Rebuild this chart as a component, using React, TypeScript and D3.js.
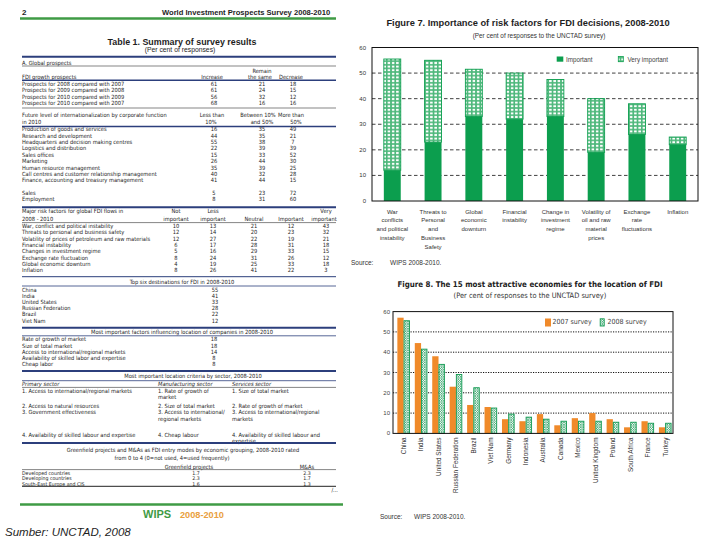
import React from 'react';
import * as d3 from 'd3';

// ---------- Figure 7 data ----------
const riskLabelLines: string[][] = [
  ['War', 'conflicts', 'and political', 'instability'],
  ['Threats to', 'Personal', 'and', 'Business', 'Safety'],
  ['Global', 'economic', 'downturn'],
  ['Financial', 'instability'],
  ['Change in', 'investment', 'regime'],
  ['Volatility of', 'oil and raw', 'material', 'prices'],
  ['Exchange', 'rate', 'fluctuations'],
  ['Inflation'],
];
const riskCategories = riskLabelLines.map((l) => l.join(' '));
const riskImportant = [12, 23, 33, 32, 33, 19, 26, 22];
const riskVeryImportant = [43.5, 32, 18.5, 18, 14.5, 21, 12, 3];
const fig7Ticks = [0, 10, 20, 30, 40, 50, 60];

// ---------- Figure 8 data ----------
const countries = ['China', 'India', 'United States', 'Russian Federation', 'Brazil', 'Viet Nam', 'Germany', 'Indonesia', 'Australia', 'Canada', 'Mexico', 'United Kingdom', 'Poland', 'South Africa', 'France', 'Turkey'];
const survey2007 = [57, 44.5, 38, 23, 14, 13, 7, 6, 9.5, 4, 7.5, 10, 7, 3, 6, 3];
const survey2008 = [55.5, 41.5, 34, 29, 22.5, 12.5, 9.5, 8, 7, 6, 6, 6, 5.5, 5.5, 5, 5];
const fig8Ticks = [0, 10, 20, 30, 40, 50, 60];

// ---------- Table 1 data ----------
const growthRows = [
  ['Prospects for 2008 compared with 2007', '61', '21', '18'],
  ['Prospects for 2009 compared with 2008', '61', '24', '15'],
  ['Prospects for 2010 compared with 2009', '56', '32', '12'],
  ['Prospects for 2010 compared with 2007', '68', '16', '16'],
];
const intlRows = [
  ['Production of goods and services', '16', '35', '49'],
  ['Research and development', '44', '35', '21'],
  ['Headquarters and decision making centres', '55', '38', '7'],
  ['Logistics and distribution', '22', '39', '39'],
  ['Sales offices', '15', '33', '52'],
  ['Marketing', '26', '44', '30'],
  ['Human resource management', '35', '39', '25'],
  ['Call centres and customer relationship management', '40', '32', '28'],
  ['Finance, accounting and treasury management', '41', '44', '15'],
];
const extraRows = [
  ['Sales', '5', '23', '72'],
  ['Employment', '8', '31', '60'],
];
const riskRows = [
  ['War, conflict and political instability', '10', '13', '21', '12', '43'],
  ['Threats to personal and business safety', '12', '14', '20', '23', '32'],
  ['Volatility of prices of petroleum and raw materials', '12', '27', '22', '19', '21'],
  ['Financial instability', '6', '17', '28', '31', '18'],
  ['Changes in investment regime', '5', '16', '29', '33', '15'],
  ['Exchange rate fluctuation', '8', '24', '31', '26', '12'],
  ['Global economic downturn', '4', '19', '25', '33', '18'],
  ['Inflation', '8', '26', '41', '22', '3'],
];
const destRows = [
  ['China', '55'], ['India', '41'], ['United States', '33'], ['Russian Federation', '28'], ['Brazil', '22'], ['Viet Nam', '12'],
];
const factorRows = [
  ['Rate of growth of market', '18'], ['Size of total market', '18'], ['Access to international/regional markets', '14'],
  ['Availability of skilled labor and expertise', '8'], ['Cheap labor', '8'],
];
const primaryItems = [['1. Access to international/regional markets'], ['2. Access to natural resources'], ['3. Government effectiveness'], ['4. Availability of skilled labour and expertise']];
const manufItems = [['1. Rate of growth of', 'market'], ['2. Size of total market'], ['3. Access to international/', 'regional markets'], ['4. Cheap labour']];
const serviceItems = [['1. Size of total market'], ['2. Rate of growth of market'], ['3. Access to international/regional', 'markets'], ['4. Availability of skilled labour and', 'expertise']];
const entryRows = [
  ['Developed countries', '1.7', '2.3'], ['Developing countries', '2.3', '1.7'], ['South-East Europe and CIS', '1.6', '1.3'],
];

const NARROW = "'Liberation Sans Narrow','Arial Narrow','DejaVu Sans Condensed',sans-serif";
const SANS = "'Liberation Sans',Arial,sans-serif";
const NAVY = '#2c3f7c';
const TXT = '#1e1e1e';

type TP = { x: number; y: number; children: React.ReactNode; a?: 'start' | 'middle' | 'end'; s?: number; w?: string; it?: boolean; f?: string; fam?: string };
const T = ({ x, y, children, a = 'start', s = 5.7, w = 'normal', it = false, f = TXT, fam = NARROW }: TP) => (
  <text x={x} y={y} textAnchor={a} dominantBaseline="central" fontSize={s} fontWeight={w} fontStyle={it ? 'italic' : 'normal'} fill={f} fontFamily={fam}>{children}</text>
);
const HL = ({ y, t = 0.8, c = NAVY, x1 = 22, x2 = 336 }: { y: number; t?: number; c?: string; x1?: number; x2?: number }) => (
  <line x1={x1} x2={x2} y1={y} y2={y} stroke={c} strokeWidth={t} />
);

function Table() {
  const cA = [214, 262, 293];
  const cR = [176, 213, 254, 291, 326];
  const itemY = [390.7, 405.8, 412.2, 435];
  return (
    <g>
      <defs>
        <clipPath id="pageClip"><rect x={0} y={0} width={343} height={540} /></clipPath>
      </defs>
      <T x={22} y={12} s={8} w="bold" fam={SANS}>2</T>
      <g clipPath="url(#pageClip)">
        <T x={162} y={12} s={7.6} w="bold" fam={SANS}>World Investment Prospects Survey 2008-2010</T>
      </g>
      <HL y={18.5} t={2.5} c="#3f9b45" x1={20} x2={336} />
      <T x={182} y={41.8} a="middle" s={8.9} w="bold" fam={SANS}>Table 1. Summary of survey results</T>
      <T x={180} y={49.6} a="middle" s={6.8} fam={SANS}>(Per cent of responses)</T>
      <HL y={56.7} t={2} />
      <T x={22} y={63}>A. Global prospects</T>
      <HL y={66} t={0.6} c="#333" />
      <T x={262} y={71} a="middle">Remain</T>
      <T x={22} y={77.3}>FDI growth prospects</T>
      <T x={212} y={77.3} a="middle">Increase</T>
      <T x={260} y={77.3} a="middle">the same</T>
      <T x={291} y={77.3} a="middle">Decrease</T>
      <HL y={80.3} t={1.6} />
      {growthRows.map((r, i) => (
        <g key={'g' + i}>
          <T x={22} y={83.8 + i * 6.5}>{r[0]}</T>
          {r.slice(1).map((v, j) => <T key={j} x={cA[j]} y={83.8 + i * 6.5} a="middle">{v}</T>)}
        </g>
      ))}
      <HL y={108} t={0.6} c="#333" />
      <T x={22} y={115.3}>Future level of internationalization by corporate function</T>
      <T x={22} y={121.5}>in 2010</T>
      <T x={212} y={115.3} a="middle">Less than</T>
      <T x={211} y={121.5} a="middle">10%</T>
      <T x={258} y={115.3} a="middle">Between 10%</T>
      <T x={262} y={121.5} a="middle">and 50%</T>
      <T x={291} y={115.3} a="middle">More than</T>
      <T x={296} y={121.5} a="middle">50%</T>
      <HL y={126.5} t={1.6} />
      {intlRows.map((r, i) => (
        <g key={'n' + i}>
          <T x={22} y={129.4 + i * 6.35}>{r[0]}</T>
          {r.slice(1).map((v, j) => <T key={j} x={cA[j]} y={129.4 + i * 6.35} a="middle">{v}</T>)}
        </g>
      ))}
      {extraRows.map((r, i) => (
        <g key={'e' + i}>
          <T x={22} y={192.7 + i * 6.2}>{r[0]}</T>
          {r.slice(1).map((v, j) => <T key={j} x={cA[j]} y={192.7 + i * 6.2} a="middle">{v}</T>)}
        </g>
      ))}
      <HL y={207.3} t={2} />
      <T x={22} y={211}>Major risk factors for global FDI flows in</T>
      <T x={22} y={218.8}>2008 - 2010</T>
      <T x={cR[0]} y={211} a="middle">Not</T>
      <T x={cR[0]} y={218.8} a="middle">important</T>
      <T x={cR[1]} y={211} a="middle">Less</T>
      <T x={cR[1]} y={218.8} a="middle">important</T>
      <T x={cR[2]} y={218.8} a="middle">Neutral</T>
      <T x={cR[3]} y={218.8} a="middle">Important</T>
      <T x={cR[4]} y={211} a="middle">Very</T>
      <T x={cR[4] - 2} y={218.8} a="middle">important</T>
      <HL y={222.6} t={0.6} c="#333" />
      {riskRows.map((r, i) => (
        <g key={'r' + i}>
          <T x={22} y={226 + i * 6.3}>{r[0]}</T>
          {r.slice(1).map((v, j) => <T key={j} x={cR[j]} y={226 + i * 6.3} a="middle">{v}</T>)}
        </g>
      ))}
      <HL y={276.7} t={1} />
      <T x={182} y={281.9} a="middle">Top six destinations for FDI in 2008-2010</T>
      <HL y={286} t={0.8} />
      {destRows.map((r, i) => (
        <g key={'d' + i}>
          <T x={22} y={289.6 + i * 6.2}>{r[0]}</T>
          <T x={215} y={289.6 + i * 6.2} a="middle">{r[1]}</T>
        </g>
      ))}
      <HL y={327.7} t={2} />
      <T x={182} y={332} a="middle">Most important factors influencing location of companies in 2008-2010</T>
      <HL y={335.8} t={0.8} />
      {factorRows.map((r, i) => (
        <g key={'f' + i}>
          <T x={22} y={339.4 + i * 6.15}>{r[0]}</T>
          <T x={214} y={339.4 + i * 6.15} a="middle">{r[1]}</T>
        </g>
      ))}
      <HL y={371} t={2} />
      <T x={193} y={376.4} a="middle">Most important location criteria by sector, 2008-2010</T>
      <HL y={380.7} t={0.8} />
      <T x={22} y={384.4} it>Primary sector</T>
      <T x={158} y={384.4} it>Manufacturing sector</T>
      <T x={232} y={384.4} it>Services sector</T>
      <HL y={387.4} t={0.6} c="#333" />
      {[primaryItems, manufItems, serviceItems].map((col, ci) => (
        <g key={'c' + ci}>
          {col.map((lines, ii) => lines.map((ln, li) => (
            <T key={ii + '-' + li} x={[22, 158, 232][ci]} y={itemY[ii] + li * 6.4}>{ln}</T>
          )))}
        </g>
      ))}
      <HL y={443} t={2} />
      <T x={183} y={450.3} a="middle">Greenfield projects and M&amp;As as FDI entry modes by economic grouping, 2008-2010 rated</T>
      <T x={172} y={458.3} a="middle">from 0 to 4 (0=not used, 4=used frequently)</T>
      <T x={189} y={466.6} a="middle">Greenfield projects</T>
      <T x={307} y={466.6} a="middle">M&amp;As</T>
      <HL y={469.6} t={0.6} c="#333" />
      {entryRows.map((r, i) => (
        <g key={'m' + i}>
          <T x={22} y={472.6 + i * 5.6} s={5.2}>{r[0]}</T>
          <T x={196} y={472.6 + i * 5.6} a="middle" s={5.2}>{r[1]}</T>
          <T x={307} y={472.6 + i * 5.6} a="middle" s={5.2}>{r[2]}</T>
        </g>
      ))}
      <HL y={486.3} t={1} c="#222" />
      <T x={338} y={490.3} a="end">/...</T>
      <HL y={504.5} t={2.6} c="#3f9b45" x1={20} x2={343} />
      <T x={143} y={514} s={11} w="bold" f="#3f9b45" fam={SANS}>WIPS</T>
      <T x={180} y={514.5} s={9.2} w="bold" f="#e9a040" fam={SANS}>2008-2010</T>
      <T x={5} y={531.5} s={11.5} it fam={SANS}>Sumber: UNCTAD, 2008</T>
    </g>
  );
}

function Figure7() {
  const x = d3.scaleBand<string>().domain(riskCategories).range([372, 698]).paddingInner(0.585).paddingOuter(0.29);
  const y = d3.scaleLinear().domain([0, 60]).range([201, 47.5]);
  const imp = '#0c9e4e';
  return (
    <g fontFamily={SANS}>
      <T x={528} y={23} a="middle" s={9.3} w="bold" fam={SANS}>Figure 7.  Importance of risk factors for FDI decisions, 2008-2010</T>
      <T x={539} y={35} a="middle" s={6.4} fam={SANS} f="#333">(Per cent of responses to the UNCTAD survey)</T>
      {fig7Ticks.filter((t) => t > 0 && t < 60).map((t) => (
        <line key={t} x1={372} x2={698} y1={y(t)} y2={y(t)} stroke="#111" strokeWidth={0.8} strokeDasharray="3.5,2.5" />
      ))}
      {fig7Ticks.map((t) => (
        <T key={'l' + t} x={366} y={y(t)} a="end" s={6} fam={SANS} f="#333">{t}</T>
      ))}
      {riskCategories.map((c, i) => {
        const x0 = x(c)!;
        const bw = x.bandwidth();
        const top = riskImportant[i] + riskVeryImportant[i];
        return (
          <g key={c}>
            <rect x={x0} y={y(top)} width={bw} height={y(riskImportant[i]) - y(top)} fill="url(#checker)" stroke={imp} strokeWidth={0.9} />
            <rect x={x0} y={y(riskImportant[i])} width={bw} height={y(0) - y(riskImportant[i])} fill={imp} />
          </g>
        );
      })}
      <rect x={372} y={47.5} width={326} height={153.5} fill="none" stroke="#111" strokeWidth={1} />
      {riskLabelLines.map((lines, i) => lines.map((ln, li) => (
        <T key={i + '-' + li} x={x(riskCategories[i])! + x.bandwidth() / 2} y={211.7 + li * 8.7} a="middle" s={6} fam={SANS} f="#333">{ln}</T>
      )))}
      <rect x={556.7} y={56.5} width={6.6} height={5.2} fill={imp} />
      <T x={566} y={59} s={6.3} fam={SANS} f="#444">Important</T>
      <rect x={618.3} y={56.5} width={5} height={5.2} fill="url(#checker)" stroke={imp} strokeWidth={0.8} />
      <T x={627.5} y={59} s={6.3} fam={SANS} f="#444">Very important</T>
      <T x={351} y={262.3} s={6.5} fam={SANS} f="#333">Source:</T>
      <T x={390} y={262.3} s={6.5} fam={SANS} f="#333">WIPS 2008-2010.</T>
    </g>
  );
}

function Figure8() {
  const x = d3.scaleBand<string>().domain(countries).range([393, 672]);
  const bw = x.bandwidth();
  const x1 = d3.scaleBand<string>().domain(['2007', '2008']).range([0.25 * bw, 0.97 * bw]);
  const y = d3.scaleLinear().domain([0, 60]).range([433.4, 311.6]);
  const orange = '#f08a2a';
  const green = '#119a52';
  return (
    <g>
      <T x={530} y={284.8} a="middle" s={7.9} w="bold" fam={NARROW} f="#222">Figure 8. The 15 most attractive economies for the location of FDI</T>
      <T x={530} y={295.5} a="middle" s={7.4} fam={NARROW} f="#333">(Per cent of responses to the UNCTAD survey)</T>
      {fig8Ticks.filter((t) => t > 0 && t < 60).map((t) => (
        <line key={t} x1={393} x2={673} y1={y(t)} y2={y(t)} stroke="#111" strokeWidth={1} strokeDasharray="1.2,1.3" />
      ))}
      {fig8Ticks.map((t) => (
        <T key={'l' + t} x={390} y={y(t)} a="end" s={6} fam={SANS} f="#444">{t}</T>
      ))}
      {countries.map((c, i) => (
        <g key={c}>
          <rect x={x(c)! + x1('2007')!} y={y(survey2007[i])} width={x1.bandwidth()} height={y(0) - y(survey2007[i])} fill={orange} />
          <rect x={x(c)! + x1('2008')! + 0.4} y={y(survey2008[i])} width={x1.bandwidth() - 0.8} height={y(0) - y(survey2008[i])} fill="url(#hatch)" stroke={green} strokeWidth={0.9} />
        </g>
      ))}
      <rect x={393} y={311.6} width={280} height={121.8} fill="none" stroke="#111" strokeWidth={1} />
      {countries.map((c) => (
        <text key={'t' + c} transform={`translate(${x(c)! + bw * 0.6},437.5) rotate(-90)`} textAnchor="end" dominantBaseline="central" fontSize={6.4} fontFamily={SANS} fill="#333">{c}</text>
      ))}
      <rect x={545} y={318.5} width={6} height={8} fill={orange} />
      <T x={552.5} y={322.3} s={7} fam={NARROW} f="#444">2007 survey</T>
      <rect x={600.2} y={318.8} width={4} height={7.2} fill="url(#hatch)" stroke={green} strokeWidth={0.9} />
      <T x={607.5} y={322.3} s={7} fam={NARROW} f="#444">2008 survey</T>
      <T x={380} y={516} s={6.5} fam={SANS} f="#333">Source:</T>
      <T x={414} y={516} s={6.5} fam={SANS} f="#333">WIPS 2008-2010.</T>
    </g>
  );
}

export default function App() {
  return (
    <svg width={720} height={540} viewBox="0 0 720 540" style={{ position: 'absolute', left: 0, top: 0, background: '#fff' }}>
      <defs>
        <pattern id="checker" patternUnits="userSpaceOnUse" width={4.25} height={3.6}>
          <rect width={4.25} height={3.6} fill="#4fb87c" />
          <rect x={0.9} y={0.8} width={2.5} height={2} fill="#ffffff" />
        </pattern>
        <pattern id="hatch" patternUnits="userSpaceOnUse" width={2.4} height={2.4}>
          <rect width={2.4} height={2.4} fill="#ffffff" />
          <path d="M0,0 L2.4,2.4 M2.4,0 L0,2.4" stroke="#1d9a5a" strokeWidth={0.6} />
        </pattern>
      </defs>
      <rect width={720} height={540} fill="#fff" />
      <Table />
      <Figure7 />
      <Figure8 />
    </svg>
  );
}
